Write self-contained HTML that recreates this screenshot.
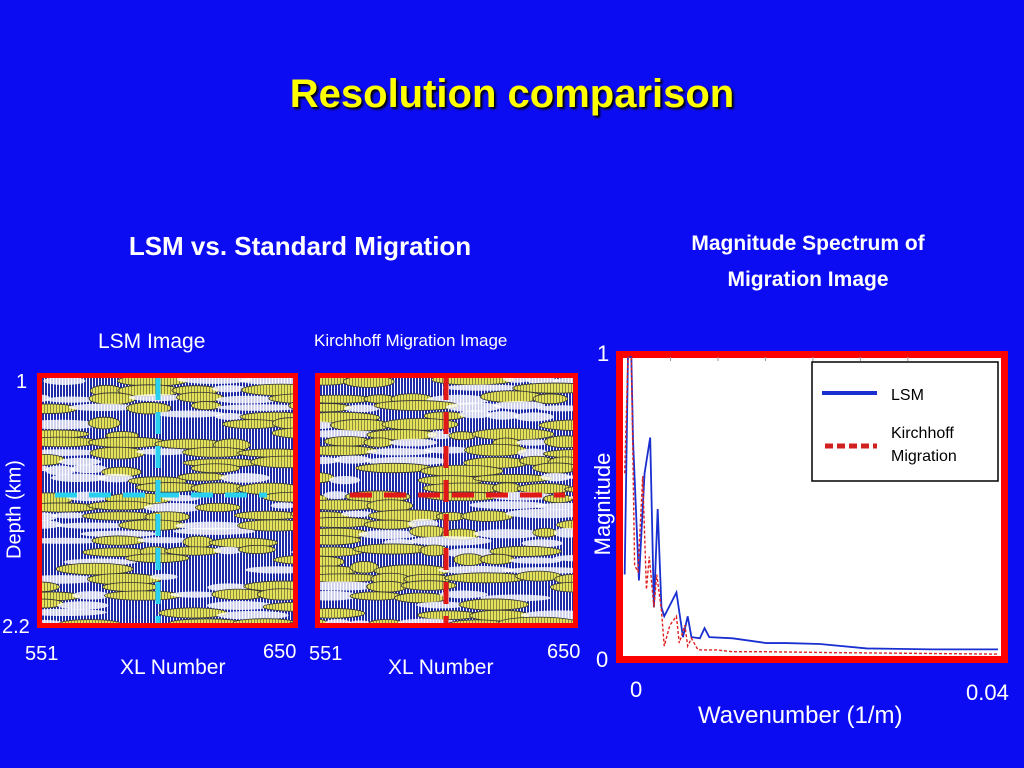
<!DOCTYPE html>
<html><head><meta charset="utf-8"><style>
body{margin:0;width:1024px;height:768px;background:#0c0cf2;position:relative;overflow:hidden;font-family:"Liberation Sans",sans-serif;color:#fff}
.t{position:absolute;white-space:nowrap}
.panel{position:absolute;border:5px solid #f00;background:#fff;overflow:hidden;box-sizing:border-box}
</style></head><body>
<div class="t" style="left:0;width:1024px;text-align:center;top:72px;font-size:40px;font-weight:bold;color:#ff0;text-shadow:2px 2px 2px #000">Resolution comparison</div>
<div class="t" style="left:60px;width:480px;text-align:center;top:231px;font-size:26px;font-weight:bold">LSM vs. Standard Migration</div>
<div class="t" style="left:608px;width:400px;text-align:center;top:226px;font-size:21px;font-weight:bold;line-height:36px;white-space:normal">Magnitude Spectrum of<br>Migration Image</div>
<div class="t" style="left:98px;top:330px;font-size:21px">LSM Image</div>
<div class="t" style="left:314px;top:331px;font-size:17px">Kirchhoff Migration Image</div>
<div class="t" style="left:16px;top:371px;font-size:20px">1</div>
<div class="t" style="left:2px;top:616px;font-size:20px">2.2</div>
<div class="t" style="left:-40px;top:498px;font-size:20px;transform:rotate(-90deg);width:110px;text-align:center">Depth (km)</div>
<div class="t" style="left:25px;top:643px;font-size:20px">551</div>
<div class="t" style="left:263px;top:641px;font-size:20px">650</div>
<div class="t" style="left:120px;top:656px;font-size:21px">XL Number</div>
<div class="t" style="left:309px;top:643px;font-size:20px">551</div>
<div class="t" style="left:547px;top:641px;font-size:20px">650</div>
<div class="t" style="left:388px;top:656px;font-size:21px">XL Number</div>

<div class="panel" id="p1" style="left:37px;top:373px;width:261px;height:255px"></div>
<div class="panel" id="p2" style="left:315px;top:373px;width:263px;height:255px"></div>

<div class="t" style="left:597px;top:341px;font-size:22px">1</div>
<div class="t" style="left:596px;top:647px;font-size:22px">0</div>
<div class="t" style="left:543px;top:491px;font-size:22px;transform:rotate(-90deg);width:120px;text-align:center">Magnitude</div>
<div class="t" style="left:630px;top:677px;font-size:22px">0</div>
<div class="t" style="left:966px;top:680px;font-size:22px">0.04</div>
<div class="t" style="left:698px;top:702px;font-size:24px">Wavenumber (1/m)</div>

<svg id="spec" style="position:absolute;left:0;top:0" width="1024" height="768"></svg>

<script>
const lsmK=[0.00018,0.00053,0.00089,0.00107,0.0017,0.0023,0.0029,0.0033,0.0037,0.0041,0.0044,0.0057,0.0064,0.0069,0.0073,0.0082,0.0087,0.0092,0.0117,0.0153,0.0174,0.021,0.026,0.033,0.04];
const lsmMag=[0.27,1.0,1.0,0.72,0.25,0.61,0.73,0.16,0.49,0.16,0.13,0.21,0.06,0.13,0.06,0.056,0.09,0.06,0.056,0.04,0.04,0.037,0.022,0.019,0.019];
const kirK=[0.00018,0.00053,0.00089,0.00124,0.0016,0.0021,0.0025,0.0028,0.0033,0.0036,0.0041,0.0044,0.005,0.0057,0.006,0.0066,0.0069,0.0073,0.008,0.01,0.0117,0.0153,0.0224,0.04];
const kirMag=[0.61,1.0,1.0,0.30,0.28,0.6,0.22,0.33,0.16,0.27,0.15,0.03,0.1,0.13,0.04,0.1,0.03,0.056,0.017,0.017,0.011,0.011,0.008,0.003];
const xTicks=[0,0.04];
const NS="http://www.w3.org/2000/svg";
const svg=document.getElementById('spec');
const X0=623,X1=998,Y0=655,Y1=357;
const xs=v=>X0+v/0.04*(X1-X0);
const ys=v=>Y0-v*(Y0-Y1);
function mk(t,a){const e=document.createElementNS(NS,t);for(const k in a)e.setAttribute(k,a[k]);svg.appendChild(e);return e;}
const frame=mk('rect',{x:619.5,y:354.5,width:385,height:305,fill:'#fff',stroke:'#f00','stroke-width':7});


for(let i=1;i<7;i++){const tk=mk('line',{x1:X0+i*(X1-X0)/7.9,x2:X0+i*(X1-X0)/7.9,y1:Y1,y2:Y1+4,stroke:'#999'});

}
const l1=mk('polyline',{points:lsmK.map((k,i)=>xs(k)+','+ys(lsmMag[i])).join(' '),fill:'none',stroke:'#1a2fd0','stroke-width':1.8});


const l2=mk('polyline',{points:kirK.map((k,i)=>xs(k)+','+ys(kirMag[i])).join(' '),fill:'none',stroke:'#e02020','stroke-width':1.4,'stroke-dasharray':'3,2'});


const lg=mk('rect',{x:812,y:362,width:186,height:119,fill:'#fff',stroke:'#000','stroke-width':1.5});


const ll=mk('line',{x1:822,x2:877,y1:393,y2:393,stroke:'#1a2fd0','stroke-width':4});


const kl=mk('line',{x1:825,x2:877,y1:446,y2:446,stroke:'#d02020','stroke-width':5,'stroke-dasharray':'8,4'});


function tx(x,y,s,n){const e=mk('text',{x:x,y:y,'font-size':16,'font-family':'Liberation Sans, sans-serif',fill:'#000'});e.textContent=s;

}
tx(891,400,'LSM','legend-lsm-label');tx(891,438,'Kirchhoff','legend-kirchhoff-label');tx(891,461,'Migration','legend-kirchhoff-label-2');

// seismic texture (decorative)
let seed=7;const rnd=()=>{seed=(seed*16807)%2147483647;return seed/2147483647;};
function seis(id,w,h,dash,vx,hy,hx0,hx1){
 let s=`<svg width="${w}" height="${h}" xmlns="${NS}"><defs><pattern id="st${id}" width="3" height="4" patternUnits="userSpaceOnUse"><rect width="2" height="4" fill="#1e2ca8"/></pattern><pattern id="sy${id}" width="3" height="4" patternUnits="userSpaceOnUse"><rect width="3" height="4" fill="#e4e25a"/><rect x="2" width="1" height="4" fill="#8a8a40"/></pattern></defs><rect width="${w}" height="${h}" fill="url(#st${id})"/>`;
 for(let y=0;y<h+8;y+=9){for(let x=-20;x<w;){const len=25+rnd()*60;const c=rnd();
  if(c<0.3)s+=`<ellipse cx="${x+len/2}" cy="${y+rnd()*4}" rx="${len/2}" ry="${3+rnd()*2}" fill="#fff" opacity="0.8"/>`;
  else if(c<0.75)s+=`<ellipse cx="${x+len/2}" cy="${y+rnd()*4}" rx="${len/2}" ry="${4+rnd()*2}" fill="url(#sy${id})" stroke="#333" stroke-width="0.8"/>`;
  x+=len*0.85;}}
 s+=`<line x1="${vx}" x2="${vx}" y1="0" y2="${h}" stroke="${dash}" stroke-width="5" stroke-dasharray="22,12"/>`;
 s+=`<line x1="${hx0}" x2="${hx1}" y1="${hy}" y2="${hy}" stroke="${dash}" stroke-width="5" stroke-dasharray="22,12"/></svg>`;
 document.getElementById(id).innerHTML=s;}
seis('p1',251,245,'#2ad0f0',116,117,13,225);
seis('p2',253,245,'#e01818',126,117,30,245);
</script>
</body></html>
